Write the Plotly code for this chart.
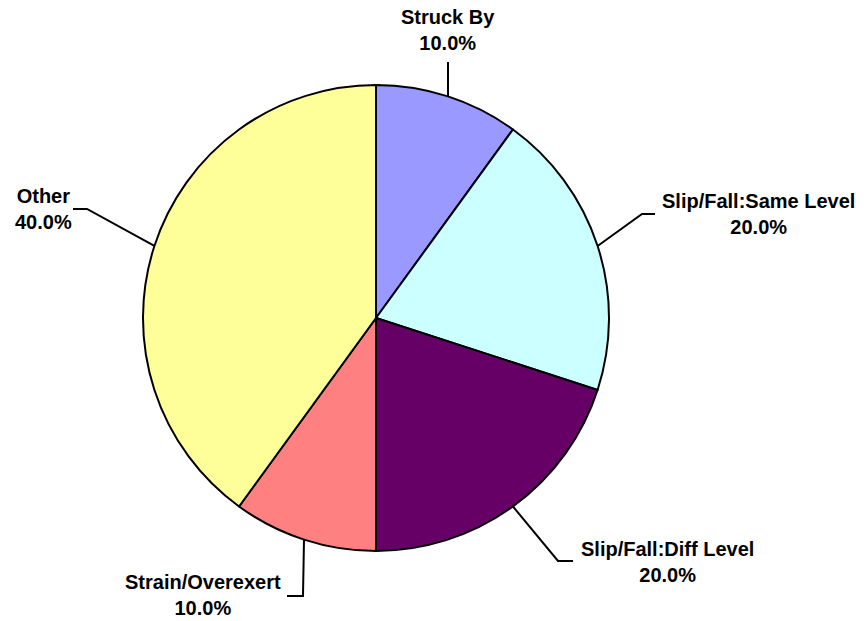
import math
import plotly.graph_objects as go

# ---- data ----
categories = ["Struck By", "Slip/Fall:Same Level", "Slip/Fall:Diff Level", "Strain/Overexert", "Other"]
shares = [10.0, 20.0, 20.0, 10.0, 40.0]
colors = ["#9999FF", "#CCFFFF", "#660066", "#FF8080", "#FFFF99"]

# ---- layout (pixels in the 866x621 window) ----
W, H = 866, 621
cx, cy, R = 376, 318, 233
# label centres (x, line1 y, line2 y) and leader elbow / end points
label_pos = [
    (448, 16, 44),
    (758, 200, 228),
    (667, 548, 575),
    (203, 582, 608),
    (43, 195, 223),
]
leader_pts = [
    [(448, 62)],
    [(642, 214), (655, 214)],
    [(558, 561), (573, 561)],
    [(303, 596), (287, 596)],
    [(87, 209), (73, 209)],
]

def px(x):
    return x / W

def py(y):
    return 1 - y / H

fig = go.Figure(go.Pie(
    labels=categories,
    values=shares,
    sort=False,
    direction="clockwise",
    rotation=0,
    textinfo="none",
    hoverinfo="label+percent",
    marker=dict(colors=colors, line=dict(color="black", width=2)),
    domain=dict(x=[px(cx - R), px(cx + R)], y=[py(cy + R), py(cy - R)]),
    showlegend=False,
))

total = sum(shares)
cum = 0.0
shapes = []
annotations = []
for i, (cat, v) in enumerate(zip(categories, shares)):
    mid = (cum + v / 2) / total * 2 * math.pi
    cum += v
    ex = cx + R * math.sin(mid)
    ey = cy - R * math.cos(mid)
    pts = [(ex, ey)] + leader_pts[i]
    path = "M " + " L ".join(f"{px(x):.5f},{py(y):.5f}" for x, y in pts)
    shapes.append(dict(type="path", xref="paper", yref="paper", path=path,
                       line=dict(color="black", width=2)))
    lx, l1, l2 = label_pos[i]
    annotations.append(dict(
        x=px(lx), y=py((l1 + l2) / 2), xref="paper", yref="paper",
        xanchor="center", yanchor="middle", showarrow=False, align="center",
        borderpad=0,
        text=f"<b>{cat}</b><br><b>{v:.1f}%</b>",
        font=dict(family="Liberation Sans, Arial, sans-serif", size=20, color="black"),
    ))

fig.update_layout(
    width=W, height=H,
    margin=dict(l=0, r=0, t=0, b=0),
    paper_bgcolor="white",
    plot_bgcolor="white",
    shapes=shapes,
    annotations=annotations,
)

fig.write_html("out.html", config={"displayModeBar": False},
               post_script="document.body.style.margin='0';")
